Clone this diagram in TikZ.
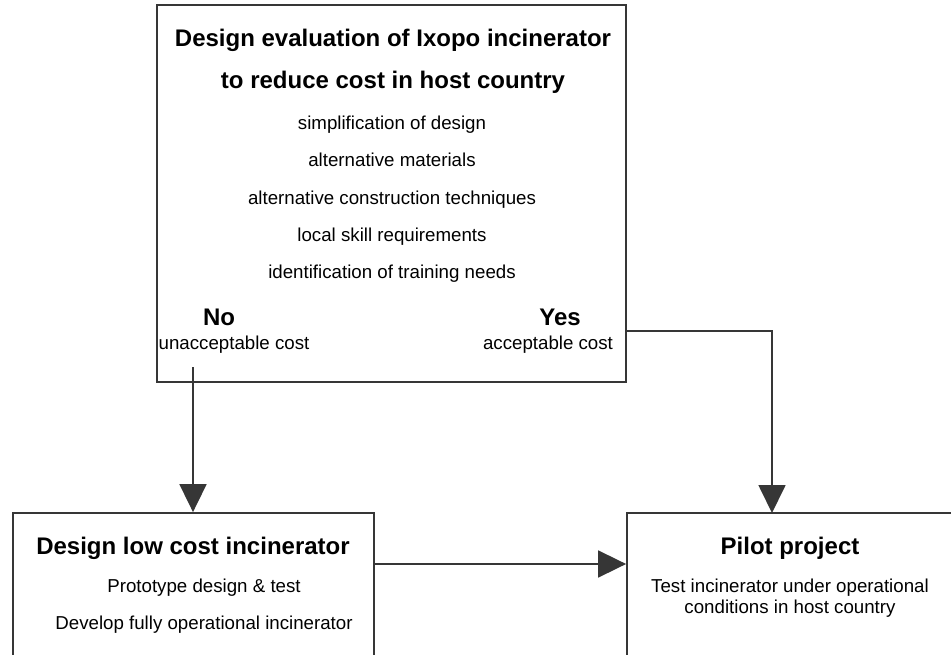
\documentclass[tikz,border=0pt]{standalone}
\usepackage{fontspec}
\setmainfont{Liberation Sans}
\usetikzlibrary{arrows.meta}
\definecolor{linec}{HTML}{363636}
\tikzset{
  box/.style={draw=linec, line width=1.8pt, rectangle, inner sep=0pt},
  head/.style={anchor=base, inner sep=0pt, font=\fontsize{24}{28}\selectfont\bfseries},
  body/.style={anchor=base, inner sep=0pt, font=\fontsize{18.7}{22}\selectfont},
  conn/.style={draw=linec, line width=1.8pt, -{Triangle[length=28pt,width=27pt]}}
}
\begin{document}
\begin{tikzpicture}[x=1pt,y=-1pt]
\useasboundingbox (0,0) rectangle (951,655);
\clip (0,0) rectangle (951,655);
% boxes
\node[box, minimum width=469pt, minimum height=377pt] (top) at (391.5,193.5) {};
\node[box, minimum width=361pt, minimum height=187pt] (low) at (193.5,606.5) {};
\node[box, minimum width=353pt, minimum height=187pt] (pilot) at (803.5,606.5) {};
% top box text
\node[head] (t1) at (393,47) {Design evaluation of Ixopo incinerator};
\node[head] (t2) at (393,89) {to reduce cost in host country};
\node[body] (b1) at (392,130) {simplification of design};
\node[body] (b2) at (392,167) {alternative materials};
\node[body] (b3) at (392,204.5) {alternative construction techniques};
\node[body] (b4) at (392,241.5) {local skill requirements};
\node[body] (b5) at (392,279) {identification of training needs};
\node[head] (no) at (219,325) {No};
\node[body] (nocost) at (234,349) {unacceptable cost};
\node[head] (yes) at (560,325) {Yes};
\node[body] (yescost) at (548,349) {acceptable cost};
% low cost box text
\node[head] (l1) at (193,554.5) {Design low cost incinerator};
\node[body] (l2) at (204,592.5) {Prototype design \& test};
\node[body] (l3) at (204,629.5) {Develop fully operational incinerator};
% pilot box text
\node[head] (p1) at (790,554.5) {Pilot project};
\node[body] (p2) at (790,592.5) {Test incinerator under operational};
\node[body] (p3) at (790,613) {conditions in host country};
% connectors
\coordinate (nostart) at (193,367);
\coordinate (yesrow) at (626,331);
\coordinate (ptop) at (772,513);
\draw[conn] (nostart) -- (nostart |- low.north);
\draw[conn] (top.east |- yesrow) -| (ptop);
\draw[conn] (low.east |- 0,564) -- (pilot.west |- 0,564);
\end{tikzpicture}
\end{document}
